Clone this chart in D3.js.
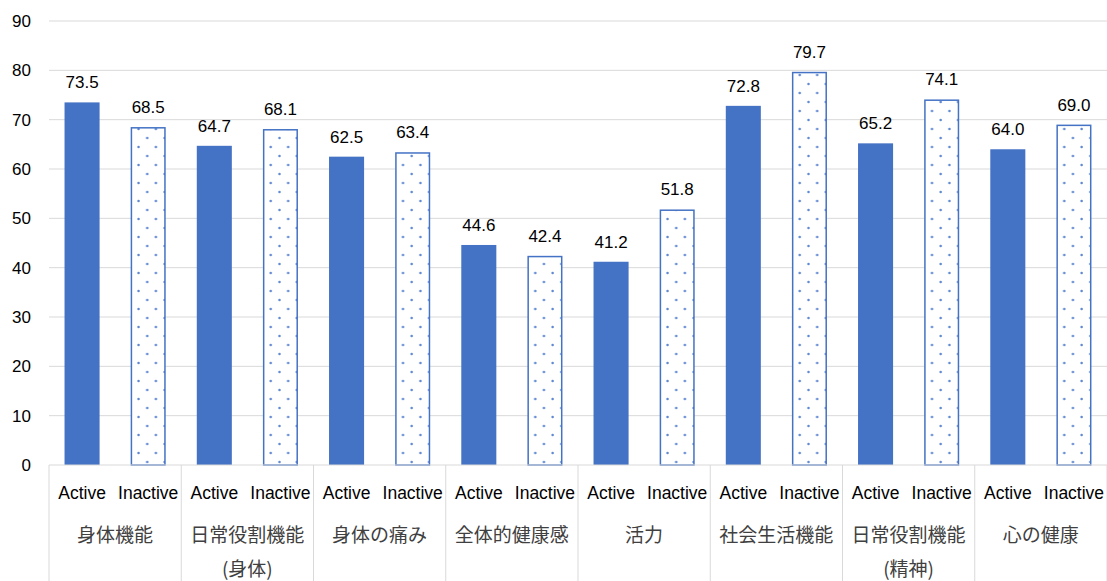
<!DOCTYPE html>
<html>
<head>
<meta charset="utf-8">
<script src="https://cdn.jsdelivr.net/npm/d3@7"></script>
<style>
  html, body { margin: 0; padding: 0; background: #fff; }
  svg { display: block; }
  text { font-family: "Liberation Sans", "Noto Sans CJK JP", sans-serif; }
</style>
</head>
<body>
<svg id="chart" width="1107" height="581"></svg>
<script>
// SF-36 subscale scores by activity group
const categories = [
  ["身体機能"],
  ["日常役割機能", "(身体)"],
  ["身体の痛み"],
  ["全体的健康感"],
  ["活力"],
  ["社会生活機能"],
  ["日常役割機能", "(精神)"],
  ["心の健康"]
];
const groups = ["Active", "Inactive"];
const activeValues   = [73.5, 64.7, 62.5, 44.6, 41.2, 72.8, 65.2, 64.0];
const inactiveValues = [68.5, 68.1, 63.4, 42.4, 51.8, 79.7, 74.1, 69.0];
const yTicks = [0, 10, 20, 30, 40, 50, 60, 70, 80, 90];

const blue = "#4472C4";
const svg = d3.select("#chart");
const W = 1107, H = 581;
const plot = { left: 49, right: 1107, top: 21, bottom: 465 };

const y = d3.scaleLinear().domain([0, 90]).range([plot.bottom, plot.top]);
const x0 = d3.scaleBand().domain(d3.range(categories.length))
  .range([plot.left, plot.right]).paddingInner(0).paddingOuter(0);
const x1 = d3.scaleBand().domain(groups).range([0, x0.bandwidth()])
  .paddingInner(0.47).paddingOuter(0.235);

// dotted fill for the Inactive bars
const defs = svg.append("defs");
const pat = defs.append("pattern").attr("id", "dots")
  .attr("patternUnits", "userSpaceOnUse").attr("width", 17.4).attr("height", 18);
pat.append("rect").attr("width", 17.4).attr("height", 18).attr("fill", "#fff");
[[2.5, 3], [11.2, 12]].forEach(([cx, cy]) => {
  pat.append("circle").attr("cx", cx).attr("cy", cy).attr("r", 1.25).attr("fill", "#5b85d0");
});

// gridlines
svg.append("g").selectAll("line").data(yTicks.filter(t => t > 0)).join("line")
  .attr("x1", plot.left).attr("x2", plot.right)
  .attr("y1", d => y(d)).attr("y2", d => y(d))
  .attr("stroke", "#d9d9d9").attr("stroke-width", 1);

// y axis labels
const yAxis = svg.append("g").attr("transform", `translate(${plot.left},0)`)
  .call(d3.axisLeft(y).tickValues(yTicks).tickSize(0).tickPadding(18));
yAxis.select(".domain").remove();
yAxis.selectAll("text").attr("font-size", 17).attr("fill", "#000")
  .style("font-family", "Liberation Sans, sans-serif");

// bars
const gCat = svg.append("g").selectAll("g").data(categories).join("g")
  .attr("transform", (d, i) => `translate(${x0(i)},0)`);

gCat.each(function(d, i) {
  const g = d3.select(this);
  const vals = [activeValues[i], inactiveValues[i]];
  groups.forEach((grp, j) => {
    const v = vals[j];
    const bx = x1(grp);
    if (grp === "Active") {
      g.append("rect").attr("x", bx).attr("y", y(v))
        .attr("width", x1.bandwidth()).attr("height", y(0) - y(v))
        .attr("fill", blue);
    } else {
      g.append("rect").attr("x", bx + 0.75).attr("y", y(v) + 0.75)
        .attr("width", x1.bandwidth() - 1.5).attr("height", y(0) - y(v) - 0.75)
        .attr("fill", "url(#dots)").attr("stroke", blue).attr("stroke-width", 1.5);
    }
    g.append("text").attr("x", bx + x1.bandwidth() / 2).attr("y", y(v) - 14)
      .attr("text-anchor", "middle").attr("font-size", 17).attr("fill", "#000")
      .text(v.toFixed(1));
    g.append("text").attr("x", bx + x1.bandwidth() / 2).attr("y", 499)
      .attr("text-anchor", "middle").attr("font-size", 17.5).attr("fill", "#000")
      .text(grp);
  });
  const t = g.append("text").attr("x", x0.bandwidth() / 2).attr("text-anchor", "middle")
    .attr("font-size", 19).attr("fill", "#404040")
    .style("font-family", "Noto Sans CJK JP, sans-serif");
  d.forEach((line, k) => {
    t.append("tspan").attr("x", x0.bandwidth() / 2).attr("y", 542 + k * 34).text(line);
  });
});

// baseline and category separators
svg.append("line").attr("x1", plot.left).attr("x2", plot.right)
  .attr("y1", y(0)).attr("y2", y(0)).attr("stroke", "#d9d9d9").attr("stroke-width", 1);
svg.append("g").selectAll("line").data(d3.range(categories.length + 1)).join("line")
  .attr("x1", i => i < categories.length ? x0(i) : plot.right)
  .attr("x2", i => i < categories.length ? x0(i) : plot.right)
  .attr("y1", y(0)).attr("y2", H)
  .attr("stroke", "#d9d9d9").attr("stroke-width", 1);
</script>
</body>
</html>
